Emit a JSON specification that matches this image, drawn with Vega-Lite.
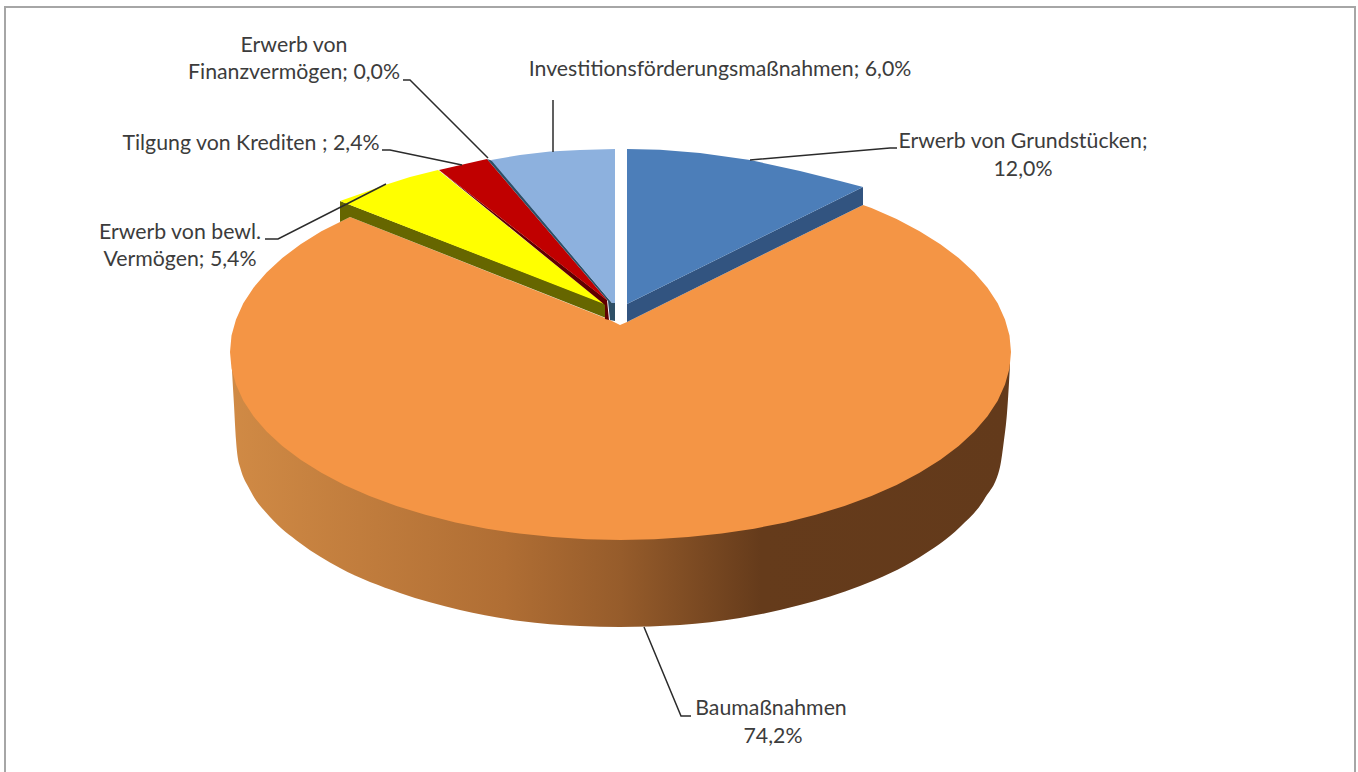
{"$schema":"https://vega.github.io/schema/vega-lite/v6.json","width":1358,"height":772,"padding":0,"autosize":{"type":"none"},"background":"white","view":{"stroke":null},
"datasets":{
"side":[{"x":232,"y":371,"y2":355},{"x":234,"y":405,"y2":372},{"x":236,"y":440,"y2":378},{"x":238,"y":459,"y2":384},{"x":240,"y":467,"y2":388},{"x":250,"y":490,"y2":405},{"x":270,"y":517,"y2":429},{"x":300,"y":543,"y2":453},{"x":340,"y":568,"y2":477},{"x":400,"y":593,"y2":501},{"x":460,"y":610,"y2":517},{"x":520,"y":621,"y2":528},{"x":580,"y":626,"y2":533},{"x":620,"y":627,"y2":534},{"x":680,"y":625,"y2":532},{"x":740,"y":618,"y2":525},{"x":800,"y":605,"y2":513},{"x":860,"y":586,"y2":494},{"x":920,"y":557,"y2":467},{"x":960,"y":527,"y2":439},{"x":985,"y":498,"y2":413},{"x":1000,"y":467,"y2":390},{"x":1004,"y":440,"y2":381},{"x":1007,"y":413,"y2":373},{"x":1010,"y":365,"y2":350}],
"faces":[
{"part":"Bau","x":863,"y":205},{"part":"Bau","x":871.5,"y":208},{"part":"Bau","x":896.6,"y":219},{"part":"Bau","x":919.6,"y":231.2},{"part":"Bau","x":940.4,"y":244.2},{"part":"Bau","x":958.7,"y":258},{"part":"Bau","x":974.4,"y":272.5},{"part":"Bau","x":987.5,"y":287.7},{"part":"Bau","x":997.7,"y":303.3},{"part":"Bau","x":1005,"y":319.4},{"part":"Bau","x":1009.5,"y":335.6},{"part":"Bau","x":1011,"y":352},{"part":"Bau","x":1009.5,"y":368.4},{"part":"Bau","x":1005,"y":384.6},{"part":"Bau","x":997.7,"y":400.7},{"part":"Bau","x":987.5,"y":416.3},{"part":"Bau","x":974.4,"y":431.5},{"part":"Bau","x":958.7,"y":446},{"part":"Bau","x":940.4,"y":459.8},{"part":"Bau","x":919.6,"y":472.8},{"part":"Bau","x":896.6,"y":484.9},{"part":"Bau","x":871.5,"y":496},{"part":"Bau","x":844.5,"y":506},{"part":"Bau","x":815.8,"y":514.8},{"part":"Bau","x":785.5,"y":522.4},{"part":"Bau","x":754.1,"y":528.7},{"part":"Bau","x":721.6,"y":533.6},{"part":"Bau","x":688.3,"y":537.1},{"part":"Bau","x":654.5,"y":539.3},{"part":"Bau","x":620.5,"y":540},{"part":"Bau","x":586.5,"y":539.3},{"part":"Bau","x":552.7,"y":537.1},{"part":"Bau","x":519.4,"y":533.6},{"part":"Bau","x":486.9,"y":528.7},{"part":"Bau","x":455.5,"y":522.4},{"part":"Bau","x":425.3,"y":514.8},{"part":"Bau","x":396.5,"y":506},{"part":"Bau","x":369.5,"y":496},{"part":"Bau","x":344.4,"y":484.9},{"part":"Bau","x":321.4,"y":472.8},{"part":"Bau","x":300.6,"y":459.8},{"part":"Bau","x":282.3,"y":446},{"part":"Bau","x":266.6,"y":431.5},{"part":"Bau","x":253.5,"y":416.3},{"part":"Bau","x":243.3,"y":400.7},{"part":"Bau","x":236,"y":384.6},{"part":"Bau","x":231.5,"y":368.4},{"part":"Bau","x":230,"y":352},{"part":"Bau","x":231.5,"y":335.6},{"part":"Bau","x":236,"y":319.4},{"part":"Bau","x":243.3,"y":303.3},{"part":"Bau","x":253.5,"y":287.7},{"part":"Bau","x":266.6,"y":272.5},{"part":"Bau","x":282.3,"y":258},{"part":"Bau","x":300.6,"y":244.2},{"part":"Bau","x":321.4,"y":231.2},{"part":"Bau","x":350,"y":217},{"part":"Bau","x":610,"y":320},{"part":"Bau","x":620,"y":325},{"part":"Bau","x":627,"y":322},
{"part":"GrundSeite","x":627,"y":304},{"part":"GrundSeite","x":863,"y":187},{"part":"GrundSeite","x":863,"y":205},{"part":"GrundSeite","x":627,"y":322},
{"part":"Grund","x":627,"y":149},{"part":"Grund","x":660,"y":149.7},{"part":"Grund","x":700,"y":153},{"part":"Grund","x":750,"y":160},{"part":"Grund","x":800,"y":171},{"part":"Grund","x":840,"y":181},{"part":"Grund","x":863,"y":187},{"part":"Grund","x":627,"y":304},
{"part":"BewlSeite","x":340,"y":201},{"part":"BewlSeite","x":340,"y":222},{"part":"BewlSeite","x":350,"y":217},{"part":"BewlSeite","x":606,"y":318},{"part":"BewlSeite","x":606,"y":304},
{"part":"Bewl","x":340,"y":201},{"part":"Bewl","x":360,"y":194},{"part":"Bewl","x":385,"y":185},{"part":"Bewl","x":410,"y":177},{"part":"Bewl","x":438,"y":170},{"part":"Bewl","x":604,"y":304},
{"part":"KredSeite","x":439,"y":170},{"part":"KredSeite","x":607,"y":300},{"part":"KredSeite","x":609,"y":320},{"part":"KredSeite","x":605,"y":319},{"part":"KredSeite","x":605,"y":305},
{"part":"Kred","x":439,"y":170},{"part":"Kred","x":465,"y":164},{"part":"Kred","x":487,"y":159},{"part":"Kred","x":608,"y":301},
{"part":"InvSeite","x":487,"y":159},{"part":"InvSeite","x":493,"y":161},{"part":"InvSeite","x":612,"y":303},{"part":"InvSeite","x":615,"y":303},{"part":"InvSeite","x":615,"y":321},{"part":"InvSeite","x":610,"y":320},{"part":"InvSeite","x":608,"y":301},
{"part":"Inv","x":491,"y":160},{"part":"Inv","x":520,"y":155},{"part":"Inv","x":550,"y":151.5},{"part":"Inv","x":580,"y":150},{"part":"Inv","x":615,"y":149},{"part":"Inv","x":615,"y":303},{"part":"Inv","x":612,"y":303}],
"leaders":[
{"k":"a","x":403,"y":80},{"k":"a","x":410,"y":80},{"k":"a","x":488,"y":158},
{"k":"b","x":382,"y":150},{"k":"b","x":390,"y":150},{"k":"b","x":462,"y":165},
{"k":"c","x":553,"y":100},{"k":"c","x":553,"y":152},
{"k":"d","x":265,"y":239},{"k":"d","x":278,"y":239},{"k":"d","x":386,"y":184},
{"k":"e","x":750,"y":160},{"k":"e","x":890,"y":148},{"k":"e","x":897,"y":148},
{"k":"f","x":644,"y":627},{"k":"f","x":681,"y":716},{"k":"f","x":691,"y":716}],
"frame":[{"x":5,"y":772},{"x":5,"y":7},{"x":1355,"y":7},{"x":1355,"y":772}],
"labels":[
{"label":"Erwerb von","x":294,"y":46},{"label":"Finanzvermögen; 0,0%","x":294,"y":73},
{"label":"Investitionsförderungsmaßnahmen; 6,0%","x":720,"y":70},
{"label":"Erwerb von Grundstücken;","x":1023,"y":142},{"label":"12,0%","x":1023,"y":170},
{"label":"Tilgung von Krediten ; 2,4%","x":251,"y":144},
{"label":"Erwerb von bewl.","x":180,"y":233},{"label":"Vermögen; 5,4%","x":180,"y":260},
{"label":"Baumaßnahmen","x":771,"y":708.5},{"label":"74,2%","x":773,"y":736.5}]},
"encoding":{"x":{"field":"x","type":"quantitative","axis":null,"scale":{"domain":[0,1358],"nice":false,"zero":false}},"y":{"field":"y","type":"quantitative","axis":null,"scale":{"domain":[0,772],"reverse":true,"nice":false,"zero":false}}},
"layer":[
{"data":{"name":"frame"},"mark":{"type":"line","stroke":"#A6A6A6","strokeWidth":2},"encoding":{"order":{"value":null}}},
{"data":{"name":"side"},"mark":{"type":"area","interpolate":"monotone","fill":{"gradient":"linear","x1":0,"x2":1,"y1":0,"y2":0,"stops":[{"offset":0,"color":"#D08A45"},{"offset":0.35,"color":"#B06E34"},{"offset":0.5,"color":"#965C2B"},{"offset":0.68,"color":"#653B1B"},{"offset":1,"color":"#633A1B"}]}},"encoding":{"y2":{"field":"y2"}}},
{"data":{"name":"faces"},"mark":{"type":"line","filled":true,"strokeWidth":0.5},"encoding":{"order":{"value":null},"color":{"field":"part","type":"nominal","legend":null,"sort":null,"scale":{"domain":["Bau","GrundSeite","Grund","BewlSeite","Bewl","KredSeite","Kred","InvSeite","Inv"],"range":["#F49545","#325480","#4C7EB9","#666600","#FFFF00","#600000","#C00000","#2E4F66","#8DB1DE"]}},"fill":{"field":"part","type":"nominal","legend":null,"scale":{"domain":["Bau","GrundSeite","Grund","BewlSeite","Bewl","KredSeite","Kred","InvSeite","Inv"],"range":["#F49545","#325480","#4C7EB9","#666600","#FFFF00","#600000","#C00000","#2E4F66","#8DB1DE"]}}}},
{"data":{"name":"leaders"},"mark":{"type":"line","stroke":"#2B2B2B","strokeWidth":1.5},"encoding":{"detail":{"field":"k"},"order":{"value":null}}},
{"data":{"name":"labels"},"mark":{"type":"text","font":"Lato","fontSize":21.3,"color":"#3C3C3C","align":"center","baseline":"middle"},"encoding":{"text":{"field":"label"}}}
]}
